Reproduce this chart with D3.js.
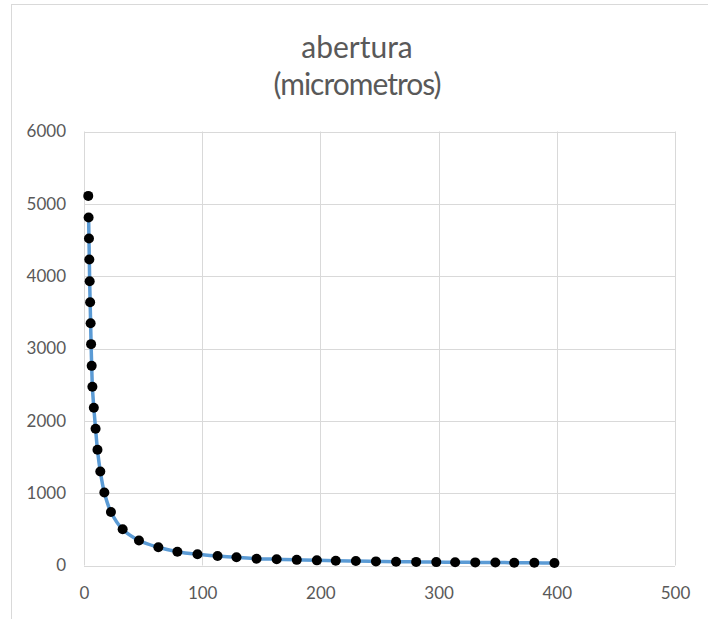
<!DOCTYPE html>
<html>
<head>
<meta charset="utf-8">
<script src="https://cdn.jsdelivr.net/npm/d3@7"></script>
<style>
  html, body { margin: 0; padding: 0; background: #ffffff; }
  svg { display: block; }
</style>
</head>
<body>
<svg id="chart" width="708" height="619"></svg>
<script>
// ---- data ----
const titleLines = ["abertura", "(micrometros)"];
const xValues = [3.6, 3.9, 4.2, 4.5, 4.8, 5.2, 5.6, 6.0, 6.5, 7.1, 8.3, 9.8, 11.4, 13.8, 17.2, 22.8, 32.7, 46.5, 62.9, 79, 96, 113, 129, 146, 163, 180, 197, 213, 230, 247, 264, 281, 298, 314, 331, 348, 364, 381, 398];
const yValues = [5110, 4810, 4520, 4230, 3930, 3640, 3350, 3060, 2760, 2470, 2180, 1890, 1600, 1300, 1010, 740, 500, 345, 252, 191, 155, 131, 113, 94, 86, 78, 71, 66, 61, 57, 53, 50, 47, 45, 43, 41, 39, 37, 35];
const lineStartIndex = 1; // the smoothed line begins at the second point
const xTicks = [0, 100, 200, 300, 400, 500];
const yTicks = [0, 1000, 2000, 3000, 4000, 5000, 6000];

// ---- layout ----
const svg = d3.select("#chart");
const W = 708, H = 619;
const plot = { left: 84, right: 675, top: 131.5, bottom: 565.5 };
const labelColor = "#595959";
const gridColor = "#d9d9d9";
const font = "Lato, 'Open Sans', sans-serif";

svg.append("rect").attr("x", 0).attr("y", 0).attr("width", W).attr("height", H).attr("fill", "#fff");
// chart border (cropped on the right and bottom)
svg.append("rect")
  .attr("x", 11.5).attr("y", 4.5).attr("width", 900).attr("height", 900)
  .attr("fill", "none").attr("stroke", gridColor).attr("stroke-width", 1);

const x = d3.scaleLinear().domain([0, 500]).range([plot.left, plot.right]);
const y = d3.scaleLinear().domain([0, 6000]).range([plot.bottom, plot.top]);

// gridlines
const grid = svg.append("g");
grid.selectAll("line.h").data(yTicks).join("line")
  .attr("x1", plot.left).attr("x2", plot.right)
  .attr("y1", d => Math.round(y(d)) + 0.5).attr("y2", d => Math.round(y(d)) + 0.5)
  .attr("stroke", gridColor).attr("stroke-width", 1);
grid.selectAll("line.v").data(xTicks).join("line")
  .attr("y1", plot.top).attr("y2", plot.bottom)
  .attr("x1", d => Math.round(x(d)) + 0.5).attr("x2", d => Math.round(x(d)) + 0.5)
  .attr("stroke", gridColor).attr("stroke-width", 1);

// axes (labels only)
const yAxis = svg.append("g")
  .attr("transform", `translate(${plot.left},0)`)
  .call(d3.axisLeft(y).tickValues(yTicks).tickSize(0).tickPadding(18).tickFormat(d3.format("d")));
const xAxis = svg.append("g")
  .attr("transform", `translate(0,${plot.bottom})`)
  .call(d3.axisBottom(x).tickValues(xTicks).tickSize(0).tickPadding(21).tickFormat(d3.format("d")));
[yAxis, xAxis].forEach(g => {
  g.select(".domain").remove();
  g.selectAll("text").attr("fill", labelColor).style("font-family", font).style("font-size", "17px");
});

// data
const pts = xValues.map((v, i) => ({ x: v, y: yValues[i] }));
const line = d3.line().x(d => x(d.x)).y(d => y(d.y)).curve(d3.curveCatmullRom.alpha(0.5));
svg.append("path")
  .datum(pts.slice(lineStartIndex))
  .attr("d", line)
  .attr("fill", "none")
  .attr("stroke", "#5B9BD5")
  .attr("stroke-width", 3.5)
  .attr("stroke-linejoin", "round")
  .attr("stroke-linecap", "round");

svg.append("g").selectAll("circle").data(pts).join("circle")
  .attr("cx", d => x(d.x)).attr("cy", d => y(d.y))
  .attr("r", 5).attr("fill", "#000");

// title
const title = svg.append("text")
  .attr("x", 357).attr("y", 58)
  .attr("text-anchor", "middle")
  .attr("fill", labelColor)
  .style("font-family", font)
  .style("font-size", "30px");
title.selectAll("tspan").data(titleLines).join("tspan")
  .attr("x", 357)
  .attr("dy", (d, i) => i === 0 ? 0 : 37)
  .style("letter-spacing", (d, i) => i === 0 ? "0px" : "-1px")
  .text(d => d);
</script>
</body>
</html>
